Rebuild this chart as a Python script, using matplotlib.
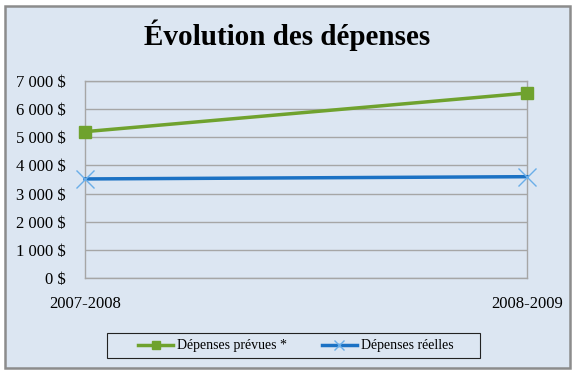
import matplotlib.pyplot as plt
from matplotlib.patches import Rectangle
from matplotlib.ticker import FuncFormatter

periods = ["2007-2008", "2008-2009"]
prevues = [5200, 6570]
reelles = [3520, 3600]
y_ticks = [0, 1000, 2000, 3000, 4000, 5000, 6000, 7000]

bg = "#dce6f2"
plt.rcParams['font.family'] = ['Liberation Serif', 'DejaVu Serif']

fig = plt.figure(figsize=(5.75, 3.74), dpi=100)
fig.patches.append(Rectangle((5 / 575, 6 / 374), 565 / 575, 362 / 374,
                             transform=fig.transFigure, facecolor=bg,
                             edgecolor="#8c8c8c", linewidth=1.8, zorder=-10))
# legend box drawn separately (wider than its contents, like the original)
fig.patches.append(Rectangle((107 / 575, 1 - 358 / 374), 373 / 575, 25 / 374,
                             transform=fig.transFigure, facecolor=bg,
                             edgecolor="#222222", linewidth=0.8, zorder=-5))

ax = fig.add_axes([85 / 575, 1 - 278 / 374, 442 / 575, 197 / 374])
ax.set_facecolor(bg)

x = range(len(periods))
ax.plot(x, prevues, color="#6fa22e", linewidth=2.5, marker="s", markersize=9,
        markerfacecolor="#6fa22e", markeredgecolor="#6fa22e",
        label="Dépenses prévues *", clip_on=False, zorder=3)
ax.plot(x, reelles, color="#1c72c4", linewidth=2.5, marker="x", markersize=13,
        markeredgecolor="#6aaee8", markeredgewidth=1.0,
        label="Dépenses réelles", clip_on=False, zorder=3)

ax.set_xlim(0, 1)
ax.set_ylim(0, 7000)
ax.set_yticks(y_ticks)
ax.yaxis.set_major_formatter(FuncFormatter(lambda v, p: f"{int(v):,} $".replace(",", " ")))
ax.set_xticks(list(x))
ax.set_xticklabels(periods)
ax.tick_params(axis="both", length=0, labelsize=12, colors="black")
ax.tick_params(axis="x", pad=13)
ax.tick_params(axis="y", pad=14)
ax.grid(axis="y", color="#a6a6a6", linewidth=1)
ax.set_axisbelow(True)
for s in ax.spines.values():
    s.set_color("#a6a6a6")
    s.set_linewidth(1)

fig.text(0.5, 0.905, "Évolution des dépenses", ha="center", va="center",
         fontsize=21, fontweight="bold")

leg = fig.legend(loc="center", bbox_to_anchor=(296 / 575, 1 - 346 / 374), ncol=2,
                 fontsize=10, frameon=False, handlelength=2.5, columnspacing=2.5,
                 handletextpad=0.3, markerscale=0.6)

fig.savefig("out.png", dpi=100, facecolor="white")
